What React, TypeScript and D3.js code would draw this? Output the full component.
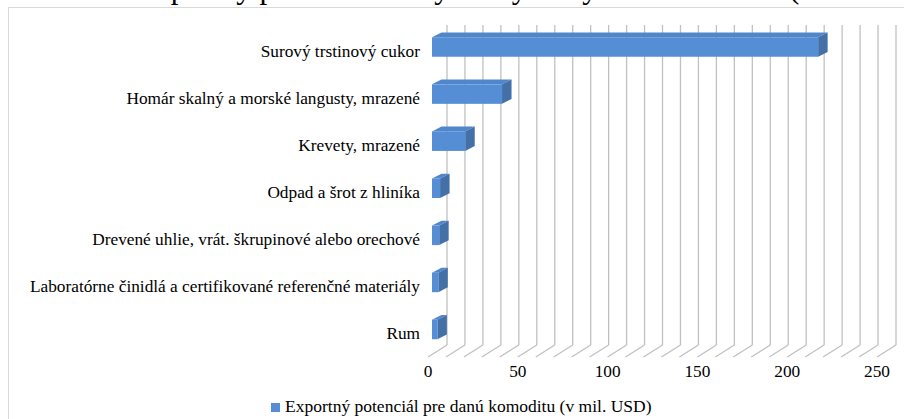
import React from "react";
import * as d3 from "d3";

const categories = [
  "Surový trstinový cukor",
  "Homár skalný a morské langusty, mrazené",
  "Krevety, mrazené",
  "Odpad a šrot z hliníka",
  "Drevené uhlie, vrát. škrupinové alebo orechové",
  "Laboratórne činidlá a certifikované referenčné materiály",
  "Rum",
];
const values = [215, 39, 18.5, 4.5, 4, 3.5, 3];
const xTicks = [0, 50, 100, 150, 200, 250];
const gridValues = d3.range(0, 251, 10);
const seriesName = "Exportný potenciál pre danú komoditu (v mil. USD)";
const title = "Graf 1: Exportný potenciál Kuby vo vybraných komoditách (v mil. USD)";

const W = 904;
const H = 419;
const FONT = "Liberation Serif, Times New Roman, Times, DejaVu Serif, serif";

export default function App() {
  const xFront = d3.scaleLinear().domain([0, 250]).range([428, 877]);
  const depthDX = 19;
  const depthDY = -12;
  const floorFrontY = 357;
  const wallTop = 25;
  const y = d3.scalePoint<string>().domain(categories).range([47, 329.5]);
  const barH = 19.5;
  const barOff = 4;
  const bdx = 9.5;
  const bdy = -4.8;
  const txt = { fontFamily: FONT };

  return (
    <svg
      width={W}
      height={H}
      style={{ position: "absolute", left: 0, top: 0, background: "#fff" }}
    >
      <text x={40} y={-2.5} style={txt} fontSize={31} fill="#000">
        {title}
      </text>
      <rect x={8.5} y={7.5} width={1000} height={1000} fill="#fff" stroke="#d9d9d9" strokeWidth={1} />

      {gridValues.map((v) => {
        const xb = xFront(v) + depthDX;
        const yb = floorFrontY + depthDY;
        return (
          <g key={v} stroke="#c0c0c0" strokeWidth={1.3} fill="none">
            <line x1={xb} x2={xb} y1={wallTop} y2={yb} />
            <line x1={xb} y1={yb} x2={xFront(v)} y2={floorFrontY} />
          </g>
        );
      })}

      {categories.map((c, i) => {
        const cy = y(c)!;
        const x0 = xFront(0) + barOff;
        const x1 = xFront(values[i]) + barOff;
        const top = cy - barH / 2;
        const bot = cy + barH / 2;
        const topFace = `M${x0},${top} L${x0 + bdx},${top + bdy} L${x1 + bdx},${top + bdy} L${x1},${top} Z`;
        const sideFace = `M${x1},${top} L${x1 + bdx},${top + bdy} L${x1 + bdx},${bot + bdy} L${x1},${bot} Z`;
        return (
          <g key={c}>
            <path d={topFace} fill="#4f86cc" />
            <path d={sideFace} fill="#4470a8" />
            <rect x={x0} y={top} width={x1 - x0} height={barH} fill="#558ed5" />
          </g>
        );
      })}

      {categories.map((c) => (
        <text
          key={c}
          x={420}
          y={y(c)! + 9.5}
          textAnchor="end"
          style={txt}
          fontSize={17.3}
          fill="#000"
        >
          {c}
        </text>
      ))}

      {xTicks.map((t) => (
        <text
          key={t}
          x={xFront(t)}
          y={377}
          textAnchor="middle"
          style={txt}
          fontSize={17.3}
          fill="#000"
        >
          {t}
        </text>
      ))}

      <rect x={271} y={403} width={9} height={9} fill="#558ed5" />
      <text x={285} y={412} style={txt} fontSize={17.5} fill="#000">
        {seriesName}
      </text>
    </svg>
  );
}
